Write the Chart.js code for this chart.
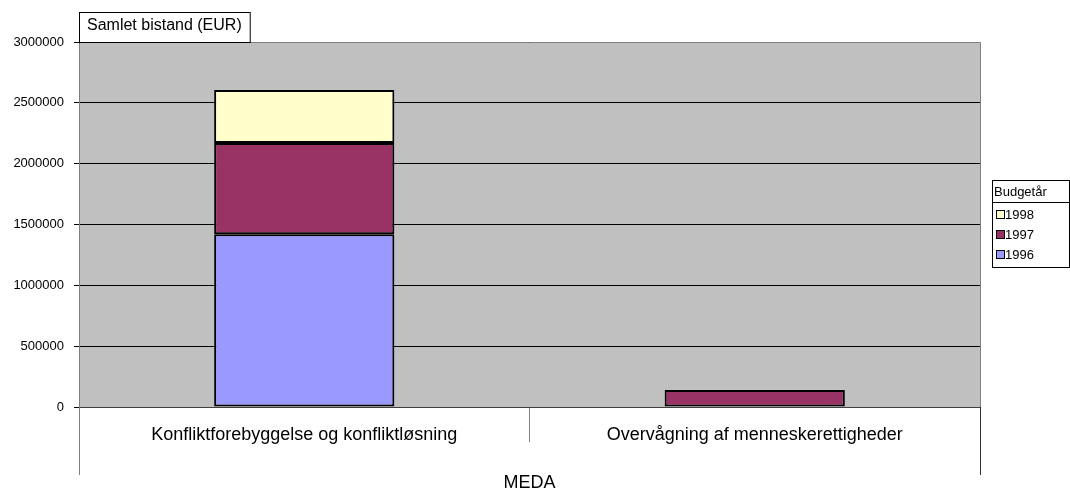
<!DOCTYPE html>
<html>
<head>
<meta charset="utf-8">
<script src="https://cdn.jsdelivr.net/npm/chart.js@4/dist/chart.umd.min.js"></script>
<style>
  html, body { margin: 0; padding: 0; background: #fff; }
  #wrap { width: 1070px; height: 494px; position: relative; }
</style>
</head>
<body>
<div id="wrap"><canvas id="chart" width="1070" height="494"></canvas></div>
<script>
// data
const categories = ['Konfliktforebyggelse og konfliktløsning', 'Overvågning af menneskerettigheder'];
const years = ['1996', '1997', '1998'];
const values1996 = [1420000, 0];
const values1997 = [750000, 140000];
const values1998 = [435000, 0];
const yTicks = [0, 500000, 1000000, 1500000, 2000000, 2500000, 3000000];
const yAxisTitle = 'Samlet bistand (EUR)';
const xAxisTitle = 'MEDA';
const legendTitle = 'Budgetår';

const colors = ['#9999FF', '#993366', '#FFFFCC'];
const font = 'Liberation Sans, Arial, sans-serif';

// grey plot area, title box, legend box, long outer dividers
const extras = {
    id: 'extras',
    beforeDraw(chart) {
        const { ctx, chartArea: a } = chart;
        ctx.save();
        ctx.fillStyle = '#C0C0C0';
        ctx.fillRect(a.left, a.top, a.right - a.left, a.bottom - a.top);
        ctx.restore();
    },
    afterDraw(chart) {
        const { ctx, chartArea: a } = chart;
        ctx.save();
        // plot border top/right
        ctx.strokeStyle = '#808080';
        ctx.lineWidth = 1;
        ctx.beginPath();
        ctx.moveTo(a.left, a.top + 0.5);
        ctx.lineTo(a.right + 0.5, a.top + 0.5);
        ctx.lineTo(a.right + 0.5, a.bottom);
        ctx.stroke();

        // outer axis lines under the plot
        ctx.beginPath();
        ctx.moveTo(a.left + 0.5, a.bottom);
        ctx.lineTo(a.left + 0.5, a.bottom + 68);
        ctx.stroke();
        ctx.strokeStyle = '#303030';
        ctx.beginPath();
        ctx.moveTo(a.right + 0.5, a.bottom);
        ctx.lineTo(a.right + 0.5, a.bottom + 68);
        ctx.stroke();

        // y title box
        ctx.font = '16px ' + font;
        const tw = ctx.measureText(yAxisTitle).width;
        ctx.fillStyle = '#fff';
        ctx.fillRect(a.left, 12, tw + 16, a.top - 12);
        ctx.strokeStyle = '#000';
        ctx.strokeRect(a.left + 0.5, 12.5, tw + 16, a.top - 12);
        ctx.fillStyle = '#000';
        ctx.textBaseline = 'middle';
        ctx.fillText(yAxisTitle, a.left + 8, 26);

        // legend box
        const lx = 992, ly = 180, lw = 77, lh = 87;
        ctx.fillStyle = '#fff';
        ctx.fillRect(lx, ly, lw, lh);
        ctx.strokeStyle = '#000';
        ctx.strokeRect(lx + 0.5, ly + 0.5, lw, lh);
        ctx.beginPath();
        ctx.moveTo(lx, ly + 22.5);
        ctx.lineTo(lx + lw, ly + 22.5);
        ctx.stroke();
        ctx.font = '13px ' + font;
        ctx.fillStyle = '#000';
        ctx.fillText(legendTitle, lx + 2, ly + 12);
        const ds = chart.data.datasets;
        for (let i = ds.length - 1, k = 0; i >= 0; i--, k++) {
            const y = ly + 34 + k * 20;
            ctx.fillStyle = ds[i].backgroundColor;
            ctx.fillRect(lx + 4, y - 4, 9, 9);
            ctx.strokeStyle = '#000';
            ctx.strokeRect(lx + 4.5, y - 3.5, 8, 8);
            ctx.fillStyle = '#000';
            ctx.fillText(ds[i].label, lx + 13, y + 1);
        }
        ctx.restore();
    }
};

new Chart(document.getElementById('chart'), {
    type: 'bar',
    data: {
        labels: categories,
        datasets: [
            { label: years[0], data: values1996, backgroundColor: colors[0] },
            { label: years[1], data: values1997, backgroundColor: colors[1] },
            { label: years[2], data: values1998, backgroundColor: colors[2] }
        ].map(d => Object.assign(d, {
            borderColor: '#000', borderWidth: 2, borderSkipped: false,
            categoryPercentage: 1, barPercentage: 0.4
        }))
    },
    options: {
        responsive: false,
        animation: false,
        layout: { padding: { top: 42, right: 90, left: 0, bottom: 0 } },
        plugins: { legend: { display: false }, tooltip: { enabled: false } },
        scales: {
            x: {
                stacked: true,
                offset: true,
                afterFit(s) { s.height = 87; },
                grid: { offset: true, drawOnChartArea: false, color: '#808080', tickLength: 35 },
                border: { color: '#404040' },
                ticks: { color: '#000', padding: -18, font: { family: font, size: 18 } },
                title: { display: true, text: xAxisTitle, color: '#000', padding: { top: 10, bottom: 0 }, font: { family: font, size: 18 } }
            },
            y: {
                stacked: true,
                min: 0,
                max: 3000000,
                afterFit(s) { s.width = 79; },
                afterBuildTicks(s) { s.ticks = yTicks.map(v => ({ value: v })); },
                grid: { color: '#000', tickLength: 5 },
                border: { color: '#808080' },
                ticks: { color: '#000', padding: 10, font: { family: font, size: 13 }, callback: v => String(v) }
            }
        }
    },
    plugins: [extras]
});
</script>
</body>
</html>
